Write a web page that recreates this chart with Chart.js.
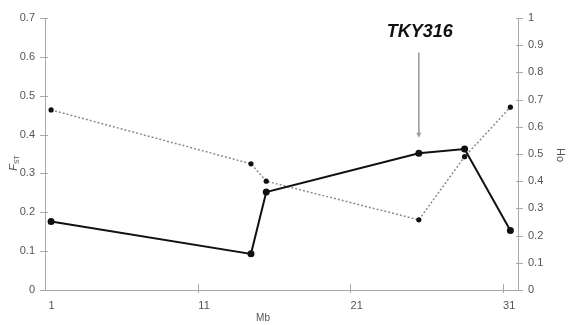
<!DOCTYPE html>
<html>
<head>
<meta charset="utf-8">
<script src="https://cdn.jsdelivr.net/npm/chart.js@4/dist/chart.umd.min.js"></script>
<style>
  html, body { margin: 0; padding: 0; background: #fff; }
  #wrap { width: 572px; height: 325px; }
</style>
</head>
<body>
<div id="wrap"><canvas id="c" width="572" height="325"></canvas></div>
<script>
// Marker positions along the chromosome (Mb)
const xMb = [1.4, 14.5, 15.5, 25.5, 28.5, 31.5];
// Differentiation (left axis)
const fst = [0.176, 0.093, 0.252, 0.352, 0.363, 0.153];
// Observed heterozygosity (right axis)
const ho = [0.662, 0.464, 0.400, 0.258, 0.490, 0.672];

// Tick values
const xTicks = [1, 11, 21, 31];
const fstTicks = [0, 0.1, 0.2, 0.3, 0.4, 0.5, 0.6, 0.7];
const hoTicks = [0, 0.1, 0.2, 0.3, 0.4, 0.5, 0.6, 0.7, 0.8, 0.9, 1];

// Highlighted locus
const locusName = 'TKY316';
const locusMb = 25.5;

const FONT = "'Liberation Sans', Arial, sans-serif";
const AXIS = '#a8a8a8';
const LABEL = '#555';

const fmt = v => String(Math.round(v * 10) / 10);

const decor = {
  id: 'decor',
  afterDraw(chart) {
    const { ctx, chartArea: a, scales } = chart;
    const xs = scales.x, yl = scales.yFst, yr = scales.yHo;
    ctx.save();
    // cross tick marks
    ctx.strokeStyle = AXIS;
    ctx.lineWidth = 1;
    ctx.beginPath();
    fstTicks.forEach(v => {
      const y = Math.round(yl.getPixelForValue(v)) + 0.5;
      ctx.moveTo(a.left - 5, y); ctx.lineTo(a.left + 3, y);
    });
    hoTicks.forEach(v => {
      const y = Math.round(yr.getPixelForValue(v)) + 0.5;
      ctx.moveTo(a.right - 2, y); ctx.lineTo(a.right + 5, y);
    });
    xTicks.slice(1).forEach(v => {
      const x = Math.round(xs.getPixelForValue(v)) + 0.5;
      ctx.moveTo(x, a.bottom - 6); ctx.lineTo(x, a.bottom + 3);
    });
    ctx.stroke();

    // axis titles
    ctx.fillStyle = LABEL;
    // F_ST, rotated
    ctx.save();
    ctx.translate(13, 163);
    ctx.rotate(-Math.PI / 2);
    ctx.font = 'italic 11px ' + FONT;
    const wF = ctx.measureText('F').width;
    ctx.font = '7px ' + FONT;
    const wS = ctx.measureText('ST').width;
    const x0 = -(wF + wS) / 2;
    ctx.textBaseline = 'alphabetic';
    ctx.textAlign = 'left';
    ctx.font = 'italic 11px ' + FONT;
    ctx.fillText('F', x0, 4);
    ctx.font = '7px ' + FONT;
    ctx.fillText('ST', x0 + wF, 6);
    ctx.restore();
    // Ho, rotated
    ctx.save();
    ctx.translate(560, 155);
    ctx.rotate(Math.PI / 2);
    ctx.font = '11px ' + FONT;
    ctx.textAlign = 'center';
    ctx.textBaseline = 'middle';
    ctx.fillText('Ho', 0, 0);
    ctx.restore();
    // Mb
    ctx.font = '10px ' + FONT;
    ctx.textAlign = 'center';
    ctx.textBaseline = 'middle';
    ctx.fillText('Mb', 263, 318);

    // locus annotation
    const ax = xs.getPixelForValue(locusMb);
    const yTop = yl.getPixelForValue(0.611);
    const yBot = yl.getPixelForValue(0.392);
    ctx.strokeStyle = '#9a9a9a';
    ctx.lineWidth = 1.5;
    ctx.beginPath();
    ctx.moveTo(ax, yTop); ctx.lineTo(ax, yBot - 3);
    ctx.stroke();
    ctx.fillStyle = '#9a9a9a';
    ctx.beginPath();
    ctx.moveTo(ax - 2.5, yBot - 5);
    ctx.lineTo(ax + 2.5, yBot - 5);
    ctx.lineTo(ax, yBot);
    ctx.closePath();
    ctx.fill();
    ctx.fillStyle = '#111';
    ctx.font = 'italic bold 18px ' + FONT;
    ctx.textAlign = 'center';
    ctx.textBaseline = 'middle';
    ctx.fillText(locusName, ax + 1, yl.getPixelForValue(0.665));
    ctx.restore();
  }
};

new Chart(document.getElementById('c'), {
  type: 'scatter',
  data: {
    datasets: [
      {
        label: 'Fst',
        data: xMb.map((x, i) => ({ x, y: fst[i] })),
        yAxisID: 'yFst',
        showLine: true,
        borderColor: '#111',
        borderWidth: 2,
        pointRadius: 3.5,
        pointBackgroundColor: '#111',
        pointBorderWidth: 0
      },
      {
        label: 'Ho',
        data: xMb.map((x, i) => ({ x, y: ho[i] })),
        yAxisID: 'yHo',
        showLine: true,
        borderColor: '#8c8c8c',
        borderWidth: 1.5,
        borderDash: [2, 2],
        pointRadius: 2.6,
        pointBackgroundColor: '#111',
        pointBorderWidth: 0
      }
    ]
  },
  options: {
    responsive: false,
    animation: false,
    devicePixelRatio: 1,
    layout: { padding: { top: 18, left: 0, right: 0, bottom: 0 } },
    plugins: { legend: { display: false }, tooltip: { enabled: false } },
    scales: {
      x: {
        type: 'linear',
        min: 1,
        max: 32,
        afterBuildTicks: s => { s.ticks = xTicks.map(v => ({ value: v })); },
        afterFit: s => { s.height = 35; },
        grid: { display: true, drawOnChartArea: false, drawTicks: false },
        border: { display: true, color: AXIS, width: 1 },
        ticks: {
          color: LABEL, font: { family: FONT, size: 11 },
          padding: 9, labelOffset: 6.5, maxRotation: 0, autoSkip: false,
          callback: v => String(v)
        }
      },
      yFst: {
        position: 'left',
        min: 0,
        max: 0.7,
        afterBuildTicks: s => { s.ticks = fstTicks.map(v => ({ value: v })); },
        afterFit: s => { s.width = 45; },
        grid: { display: true, drawOnChartArea: false, drawTicks: false },
        border: { display: true, color: AXIS, width: 1 },
        ticks: { color: LABEL, font: { family: FONT, size: 11 }, padding: 10, callback: fmt }
      },
      yHo: {
        position: 'right',
        min: 0,
        max: 1,
        afterBuildTicks: s => { s.ticks = hoTicks.map(v => ({ value: v })); },
        afterFit: s => { s.width = 54; },
        grid: { display: true, drawOnChartArea: false, drawTicks: false },
        border: { display: true, color: AXIS, width: 1 },
        ticks: { color: LABEL, font: { family: FONT, size: 11 }, padding: 10, callback: fmt }
      }
    }
  },
  plugins: [decor]
});
</script>
</body>
</html>
